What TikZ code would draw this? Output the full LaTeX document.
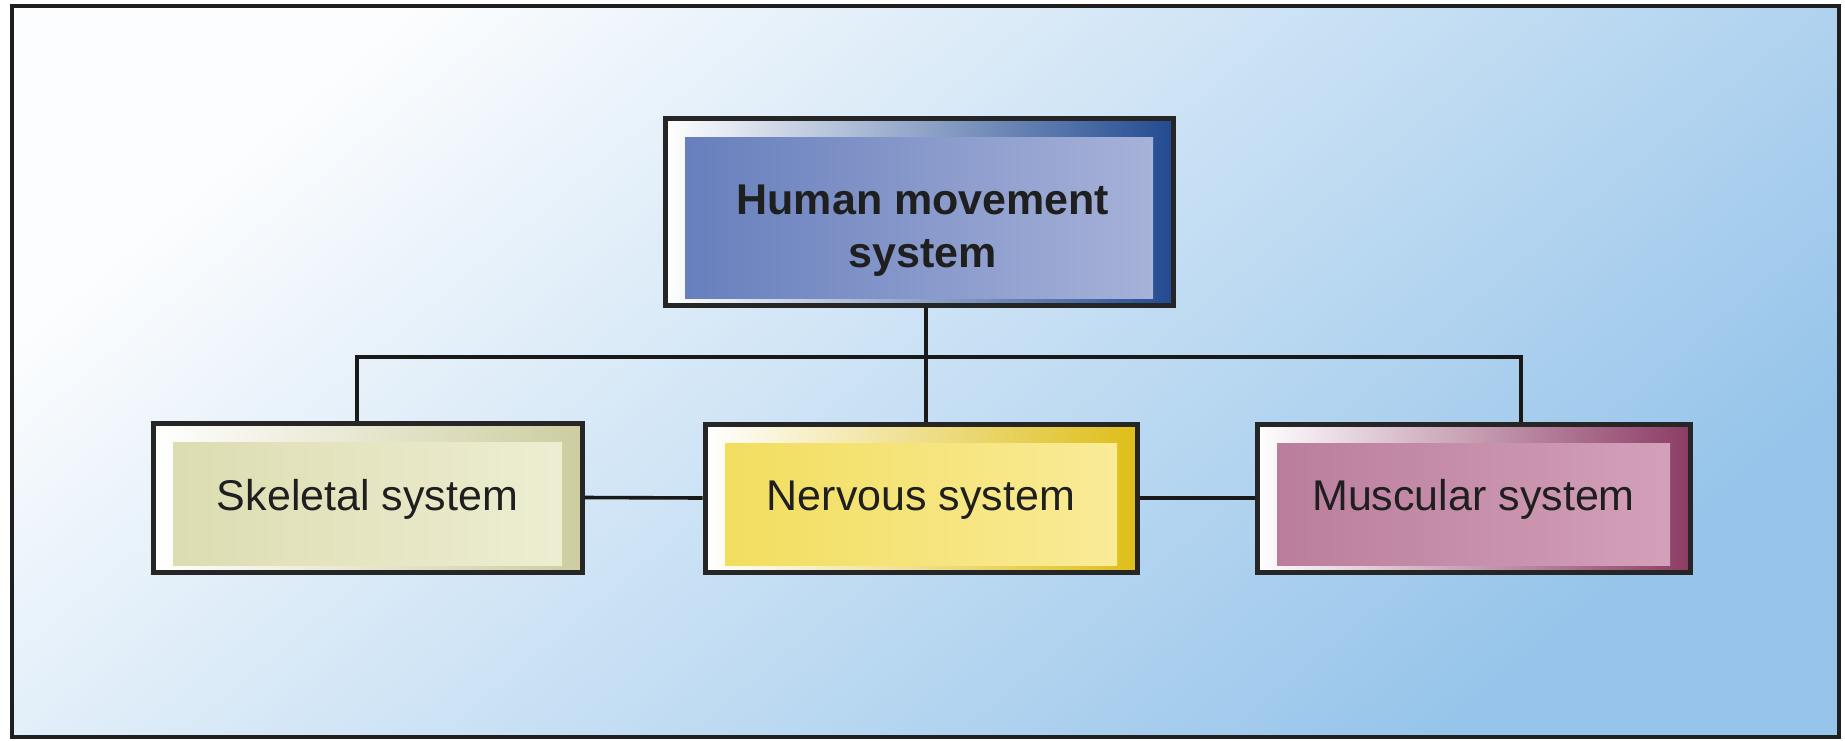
\documentclass[tikz,border=0pt]{standalone}
\usepackage{fontspec}
\setmainfont{Liberation Sans}
\definecolor{bgA}{RGB}{252,253,254}
\definecolor{bgB}{RGB}{214,229,245}
\definecolor{bgC}{RGB}{150,196,234}
\definecolor{topDark}{RGB}{35,75,145}
\definecolor{topL}{RGB}{100,125,187}
\definecolor{topR}{RGB}{170,180,218}
\definecolor{skDark}{RGB}{205,205,160}
\definecolor{skL}{RGB}{220,220,176}
\definecolor{skR}{RGB}{238,238,212}
\definecolor{nvDark}{RGB}{222,190,25}
\definecolor{nvL}{RGB}{241,221,92}
\definecolor{nvR}{RGB}{250,236,155}
\definecolor{muDark}{RGB}{140,60,100}
\definecolor{muL}{RGB}{185,124,155}
\definecolor{muR}{RGB}{212,162,187}
\begin{document}
\begin{tikzpicture}[x=1pt,y=-1pt,
  conn/.style={line width=3.6pt, draw=black!90},
  sysbox/.style n args={3}{draw=black!85, line width=5pt, rectangle, inner sep=0pt,
     left color=white, right color=#1,
     path picture={\shade[left color=#2,right color=#3]
        ([xshift=20pt,yshift=-19pt]path picture bounding box.north west) rectangle
        ([xshift=-20pt,yshift=7pt]path picture bounding box.south east);}},
  boxtext/.style={font=\fontsize{43}{53}\selectfont, text=black!88, align=center, inner sep=0pt},
  linetext/.style={boxtext, text height=34pt, text depth=9pt}
]
\useasboundingbox (0,0) rectangle (1845,740);
\fill[white] (0,0) rectangle (1845,740);
\shade[top color=bgA, middle color=bgB, bottom color=bgC, shading angle=40] (12,6) rectangle (1839,737);
\draw[line width=4.5pt, black!88] (12,6) rectangle (1839,737);

\node[sysbox={topDark}{topL}{topR}, minimum width=508pt, minimum height=187pt] (top) at (919,212) {};
\node[boxtext] (toptext) at (923,231) {\textbf{Human movement}\\\textbf{system}};

\node[sysbox={skDark}{skL}{skR}, linetext, minimum width=429pt, minimum height=149pt] (skel) at (367.5,497.5) {Skeletal system};
\node[sysbox={nvDark}{nvL}{nvR}, linetext, minimum width=432pt, minimum height=148pt] (nerv) at (921,498) {Nervous system};
\node[sysbox={muDark}{muL}{muR}, linetext, minimum width=433pt, minimum height=148pt] (musc) at (1473.5,498) {Muscular system};

\coordinate (busL) at (357,357);
\coordinate (busR) at (1521,357);
\draw[conn] (busL |- skel.north) -- (busL) -- (busR) -- (busR |- musc.north);
\draw[conn] ([xshift=7pt]top.south) -- ([xshift=7pt]top.south |- nerv.north);
\draw[conn] (skel.east) -- (nerv.west);
\draw[conn] (nerv.east) -- (musc.west);
\end{tikzpicture}
\end{document}
